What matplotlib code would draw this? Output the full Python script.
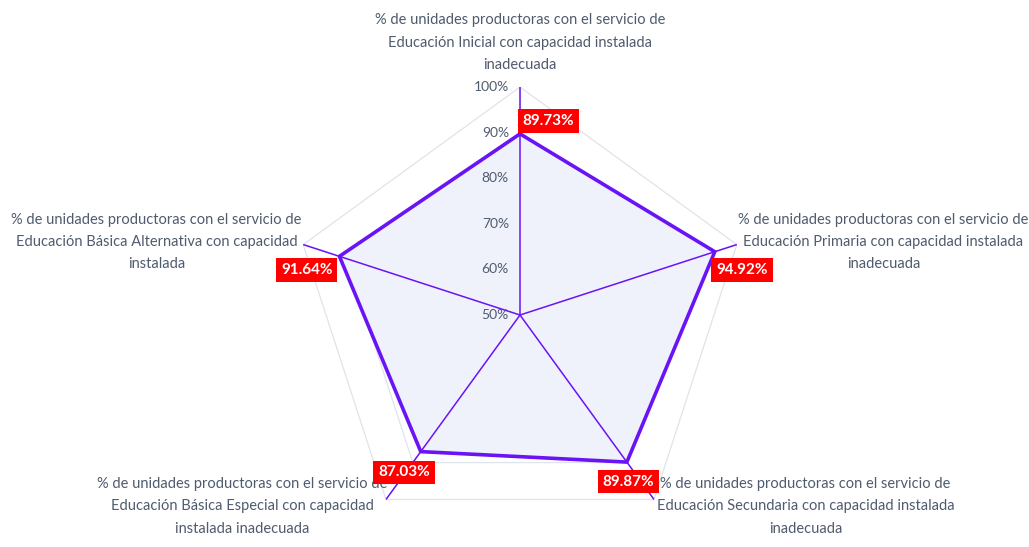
import numpy as np
import matplotlib
matplotlib.use("Agg")
import matplotlib.pyplot as plt

plt.rcParams['font.family'] = ['Lato', 'DejaVu Sans']

labels = [
    "% de unidades productoras con el servicio de\nEducación Inicial con capacidad instalada\ninadecuada",
    "% de unidades productoras con el servicio de\nEducación Primaria con capacidad instalada\ninadecuada",
    "% de unidades productoras con el servicio de\nEducación Secundaria con capacidad instalada\ninadecuada",
    "% de unidades productoras con el servicio de\nEducación Básica Especial con capacidad\ninstalada inadecuada",
    "% de unidades productoras con el servicio de\nEducación Básica Alternativa con capacidad\ninstalada",
]
values = [89.73, 94.92, 89.87, 87.03, 91.64]
rticks = [50, 60, 70, 80, 90, 100]
rmin, rmax = 50, 100

purple = '#6a14f5'
gridc = '#dfe3eb'
textc = '#4f5b6e'

n = len(values)
theta = np.arange(n) * 2 * np.pi / n
theta_c = np.append(theta, theta[0])
vals_c = np.append(values, values[0])

fig = plt.figure(figsize=(10.29, 5.47), dpi=100)
ax = fig.add_axes([0.2838, 0.0073, 0.4431, 0.8336], projection='polar')
ax.set_theta_zero_location('N')
ax.set_theta_direction(-1)
ax.set_ylim(rmin, rmax)
ax.grid(False)
ax.set_xticks([])
ax.set_yticks([])
ax.spines['polar'].set_visible(False)
ax.patch.set_alpha(0)

# polygon grid
for r in rticks[1:]:
    ax.plot(theta_c, [r] * (n + 1), color=gridc, lw=0.9, zorder=1)
for t in theta:
    ax.plot([t, t], [rmin, rmax], color=gridc, lw=0.9, zorder=1)

# filled data polygon
ax.fill(theta_c, vals_c, color='#eff2fb', zorder=2)
# spokes in purple
for t in theta:
    ax.plot([t, t], [rmin, rmax], color=purple, lw=1.1, zorder=3)
ax.plot(theta_c, vals_c, color=purple, lw=2.6, zorder=4, solid_joinstyle='miter')

# radial tick labels
for r in rticks:
    ax.annotate(f"{r}%", xy=(0, r), xytext=(-8, 0), textcoords='offset points',
                ha='right', va='center', fontsize=10, color=textc, zorder=5)

# axis labels
lab_pos = [((0, 11), 'center', 'bottom'),
           ((1, 2), 'left', 'center'),
           ((2, 16), 'left', 'top'),
           ((1, 16), 'right', 'top'),
           ((-1, 2), 'right', 'center')]
for t, lab, (off, ha, va) in zip(theta, labels, lab_pos):
    ax.annotate(lab, xy=(t, rmax), xytext=off, textcoords='offset points',
                ha=ha, va=va, ma='center', fontsize=10.5, color=textc,
                linespacing=1.75, annotation_clip=False)

# value labels
val_pos = [((2, 4), 'left', 'bottom'),
           ((1, -8), 'left', 'top'),
           ((1, -9), 'center', 'top'),
           ((-12, -10), 'center', 'top'),
           ((-5, -5), 'right', 'top')]
for t, v, (off, ha, va) in zip(theta, values, val_pos):
    ax.annotate(f"{v:.2f}%", xy=(t, v), xytext=off, textcoords='offset points',
                ha=ha, va=va, fontsize=11, fontweight='bold', color='white',
                bbox=dict(boxstyle='square,pad=0.32', fc='#ff0000', ec='none'),
                zorder=6, annotation_clip=False)

fig.savefig('out.png', dpi=100, facecolor='white')
